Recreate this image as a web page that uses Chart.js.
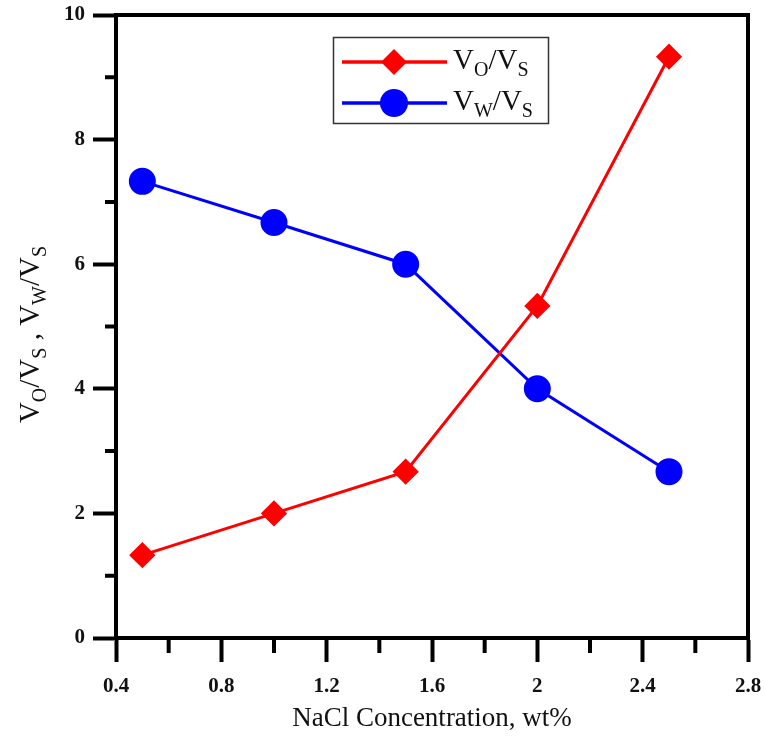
<!DOCTYPE html>
<html>
<head>
<meta charset="utf-8">
<script src="https://cdn.jsdelivr.net/npm/chart.js@4.4.1/dist/chart.umd.min.js"></script>
<style>
  html, body { margin: 0; padding: 0; background: #fff; }
  #wrap { width: 765px; height: 738px; }
</style>
</head>
<body>
<div id="wrap"><canvas id="chart" width="765" height="738"></canvas></div>
<script>
const nacl = [0.5, 1.0, 1.5, 2.0, 2.5];
const voVs = [1.33, 2.0, 2.67, 5.33, 9.33];
const vwVs = [7.33, 6.67, 6.0, 4.0, 2.67];
const xTicks = [0.4, 0.8, 1.2, 1.6, 2, 2.4, 2.8];
const xMinor = [0.6, 1.0, 1.4, 1.8, 2.2, 2.6];
const yTicks = [0, 2, 4, 6, 8, 10];
const yMinor = [1, 3, 5, 7, 9];
const voLabel = [["V", 0], ["O", 1], ["/V", 0], ["S", 1]];
const vwLabel = [["V", 0], ["W", 1], ["/V", 0], ["S", 1]];
const xTitle = "NaCl Concentration, wt%";

const SERIF = "'Liberation Serif', 'Times New Roman', serif";

// text with subscripts: parts = [[text, isSub], ...], y is the baseline
function drawRich(ctx, parts, x, y, big, small, drop) {
  let cx = x;
  parts.forEach(([t, sub]) => {
    ctx.font = (sub ? small : big) + "px " + SERIF;
    ctx.fillText(t, cx, sub ? y + drop : y);
    cx += ctx.measureText(t).width;
  });
  return cx - x;
}
function richWidth(ctx, parts, big, small) {
  return parts.reduce((w, [t, sub]) => {
    ctx.font = (sub ? small : big) + "px " + SERIF;
    return w + ctx.measureText(t).width;
  }, 0);
}

const decor = {
  id: "decor",
  afterDraw(chart) {
    const { ctx, chartArea: a, scales: { x, y } } = chart;
    ctx.save();

    // top/right frame and minor ticks
    ctx.strokeStyle = "#000";
    ctx.lineWidth = 4;
    ctx.beginPath();
    ctx.moveTo(a.left - 2, a.top);
    ctx.lineTo(a.right, a.top);
    ctx.lineTo(a.right, a.bottom + 2);
    xMinor.forEach((v) => {
      const px = x.getPixelForValue(v);
      ctx.moveTo(px, a.bottom);
      ctx.lineTo(px, a.bottom + 15);
    });
    yMinor.forEach((v) => {
      const py = y.getPixelForValue(v);
      ctx.moveTo(a.left, py);
      ctx.lineTo(a.left - 11, py);
    });
    ctx.stroke();

    // y axis title, rotated
    ctx.fillStyle = "#111";
    ctx.textBaseline = "alphabetic";
    ctx.textAlign = "left";
    const yParts = [...voLabel, [" , ", 0], ...vwLabel];
    const tw = richWidth(ctx, yParts, 29, 20);
    ctx.save();
    ctx.translate(39, (a.top + a.bottom) / 2 + 8);
    ctx.rotate(-Math.PI / 2);
    drawRich(ctx, yParts, -tw / 2, 0, 29, 20, 7);
    ctx.restore();

    // legend box
    ctx.fillStyle = "#fff";
    ctx.fillRect(334, 38, 214, 85);
    ctx.strokeStyle = "#333";
    ctx.lineWidth = 1.5;
    ctx.strokeRect(333.5, 37.5, 215, 86);

    const rows = [
      { y: 62, color: "#ff0000", parts: voLabel, shape: "diamond" },
      { y: 103, color: "#0000ff", parts: vwLabel, shape: "circle" },
    ];
    rows.forEach((r) => {
      ctx.strokeStyle = r.color;
      ctx.fillStyle = r.color;
      ctx.lineWidth = 3.5;
      ctx.beginPath();
      ctx.moveTo(342, r.y);
      ctx.lineTo(447, r.y);
      ctx.stroke();
      ctx.beginPath();
      if (r.shape === "diamond") {
        ctx.moveTo(394 - 13, r.y);
        ctx.lineTo(394, r.y - 13);
        ctx.lineTo(394 + 13, r.y);
        ctx.lineTo(394, r.y + 13);
        ctx.closePath();
      } else {
        ctx.arc(394, r.y, 14, 0, Math.PI * 2);
      }
      ctx.fill();
      ctx.fillStyle = "#111";
      drawRich(ctx, r.parts, 453, r.y + 7, 29, 20, 7);
    });

    ctx.restore();
  },
};

const tickFont = { family: SERIF, size: 21, weight: "bold" };

new Chart(document.getElementById("chart"), {
  type: "line",
  data: {
    datasets: [
      {
        label: "Vo/Vs",
        data: nacl.map((v, i) => ({ x: v, y: voVs[i] })),
        borderColor: "#ff0000",
        backgroundColor: "#ff0000",
        borderWidth: 3,
        pointStyle: "rectRot",
        pointRadius: 11,
        pointHoverRadius: 11,
      },
      {
        label: "Vw/Vs",
        data: nacl.map((v, i) => ({ x: v, y: vwVs[i] })),
        borderColor: "#0000ff",
        backgroundColor: "#0000ff",
        borderWidth: 3,
        pointStyle: "circle",
        pointRadius: 12,
        pointHoverRadius: 12,
      },
    ],
  },
  options: {
    responsive: false,
    animation: false,
    devicePixelRatio: 1,
    layout: { padding: { top: 15, right: 17, left: 0, bottom: 0 } },
    plugins: { legend: { display: false }, tooltip: { enabled: false } },
    scales: {
      x: {
        type: "linear",
        min: 0.4,
        max: 2.8,
        afterBuildTicks: (s) => { s.ticks = xTicks.map((v) => ({ value: v })); },
        afterFit: (s) => { s.height = 100; s.paddingLeft = 0; s.paddingRight = 0; },
        ticks: { font: tickFont, color: "#111", padding: 12, maxRotation: 0, callback: (v) => String(v) },
        grid: { drawOnChartArea: false, tickLength: 24, tickWidth: 4, tickColor: "#000" },
        border: { width: 4, color: "#000" },
        title: { display: true, text: xTitle, font: { family: SERIF, size: 27 }, color: "#111", padding: { top: 0, bottom: 3 } },
      },
      y: {
        min: 0,
        max: 10,
        afterBuildTicks: (s) => { s.ticks = yTicks.map((v) => ({ value: v })); },
        afterFit: (s) => { s.width = 116; s.paddingTop = 0; s.paddingBottom = 0; },
        ticks: { font: tickFont, color: "#111", padding: 8 },
        grid: { drawOnChartArea: false, tickLength: 23, tickWidth: 4, tickColor: "#000" },
        border: { width: 4, color: "#000" },
      },
    },
  },
  plugins: [decor],
});
</script>
</body>
</html>
